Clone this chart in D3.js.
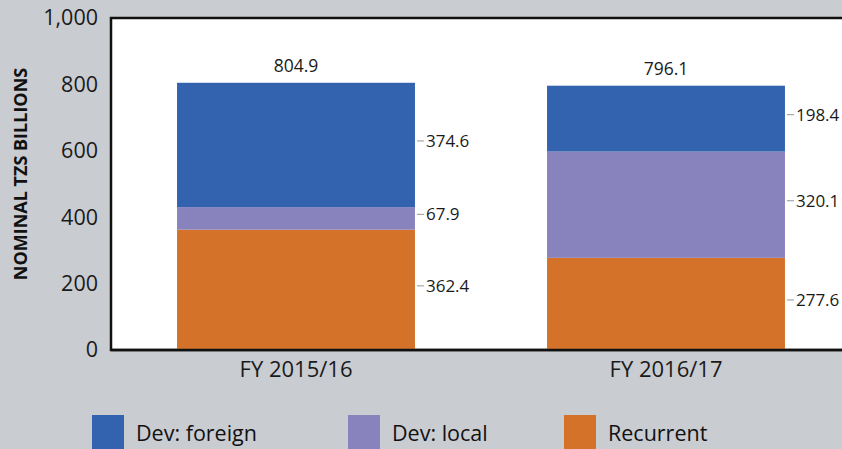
<!DOCTYPE html>
<html><head><meta charset="utf-8">
<script src="https://cdn.jsdelivr.net/npm/d3@7"></script>
<style>
html,body{margin:0;padding:0;background:#c9ccd1;}
svg{display:block;font-family:"Open Sans",sans-serif;}
</style></head>
<body>
<svg id="chart" width="842" height="449"></svg>
<script>
const categories = ["FY 2015/16", "FY 2016/17"];
const seriesNames = ["Recurrent", "Dev: local", "Dev: foreign"];
const recurrent = [362.4, 277.6];
const devLocal = [67.9, 320.1];
const devForeign = [374.6, 198.4];
const totals = [804.9, 796.1];
const yTicks = [0, 200, 400, 600, 800, 1000];
const legendOrder = ["Dev: foreign", "Dev: local", "Recurrent"];
const colors = {"Recurrent": "#d4722a", "Dev: local": "#8882bd", "Dev: foreign": "#3363ae"};

(function () {
const svg = d3.select("#chart");
const W = 842, H = 449;
svg.append("rect").attr("width", W).attr("height", H).attr("fill", "#c9ccd1");

const mLeft = 111, mTop = 18, mBottom = 350, mRight = 851;
const x = d3.scaleBand().domain(categories).range([mLeft, mRight]).paddingInner(0.357).paddingOuter(0.1785);
const y = d3.scaleLinear().domain([0, 1000]).range([mBottom, mTop]);

svg.append("rect").attr("x", mLeft).attr("y", mTop).attr("width", mRight - mLeft).attr("height", mBottom - mTop)
  .attr("fill", "#ffffff").attr("stroke", "#111").attr("stroke-width", 2.5);

const data = categories.map((c, i) => ({cat: c, "Recurrent": recurrent[i], "Dev: local": devLocal[i], "Dev: foreign": devForeign[i]}));
const stacked = d3.stack().keys(seriesNames)(data);

stacked.forEach(s => {
  svg.append("g").selectAll("rect").data(s).join("rect")
    .attr("x", d => x(d.data.cat))
    .attr("width", x.bandwidth())
    .attr("y", d => y(d[1]))
    .attr("height", d => y(d[0]) - y(d[1]))
    .attr("fill", colors[s.key]);
});

svg.append("line").attr("x1", mLeft).attr("x2", mRight).attr("y1", mBottom).attr("y2", mBottom)
  .attr("stroke", "#111").attr("stroke-width", 2.5);

stacked.forEach(s => {
  const g = svg.append("g");
  s.forEach(d => {
    const xr = x(d.data.cat) + x.bandwidth();
    const yy = y((d[0] + d[1]) / 2) - 4;
    g.append("line").attr("x1", xr + 2).attr("x2", xr + 9).attr("y1", yy).attr("y2", yy)
      .attr("stroke", "#a6a6a6").attr("stroke-width", 1.2);
    g.append("text").attr("x", xr + 11).attr("y", yy).attr("dy", "0.35em")
      .attr("font-size", 17).attr("fill", "#1a1a1a")
      .text((d[1] - d[0]).toFixed(1));
  });
});

svg.append("g").selectAll("text").data(categories).join("text")
  .attr("x", d => x(d) + x.bandwidth() / 2)
  .attr("y", (d, i) => y(totals[i]) - 11)
  .attr("text-anchor", "middle").attr("font-size", 17.5).attr("fill", "#1a1a1a")
  .text((d, i) => totals[i].toFixed(1));

const yAxis = d3.axisLeft(y).tickValues(yTicks).tickSize(0).tickPadding(13).tickFormat(d3.format(","));
const ya = svg.append("g").attr("transform", `translate(${mLeft},0)`).call(yAxis);
ya.select(".domain").remove();
ya.selectAll("text").attr("font-size", 21.5).attr("fill", "#1a1a1a").attr("font-family", "Open Sans");

const xAxis = d3.axisBottom(x).tickSize(0).tickPadding(11);
const xa = svg.append("g").attr("transform", `translate(0,${mBottom})`).call(xAxis);
xa.select(".domain").remove();
xa.selectAll("text").attr("font-size", 22).attr("fill", "#1a1a1a").attr("font-family", "Open Sans");

svg.append("text").attr("transform", "translate(27,174) rotate(-90)")
  .attr("text-anchor", "middle").attr("font-size", 18).attr("font-weight", "bold").attr("fill", "#111")
  .text("NOMINAL TZS BILLIONS");

const legX = [92, 348, 564];
const lg = svg.append("g").selectAll("g").data(legendOrder).join("g")
  .attr("transform", (d, i) => `translate(${legX[i]},415)`);
lg.append("rect").attr("width", 32).attr("height", 40).attr("fill", d => colors[d]);
lg.append("text").attr("x", 44).attr("y", 18).attr("dy", "0.35em").attr("font-size", 21.5).attr("fill", "#111")
  .text(d => d);
})();
</script>
</body></html>
